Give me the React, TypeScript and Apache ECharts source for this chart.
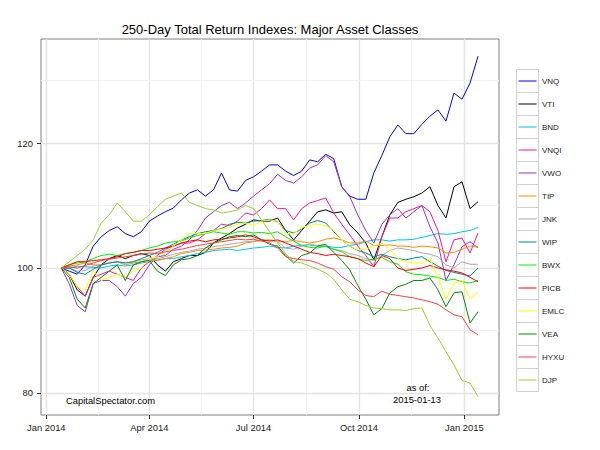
import React, { useEffect, useRef } from "react";
import * as echarts from "echarts";

const dates = [
  "2014-01-14", "2014-01-21", "2014-01-28", "2014-02-04", "2014-02-11", "2014-02-18", "2014-02-25",
  "2014-03-04", "2014-03-11", "2014-03-18", "2014-03-25", "2014-04-01", "2014-04-08", "2014-04-15",
  "2014-04-22", "2014-04-29", "2014-05-06", "2014-05-13", "2014-05-20", "2014-05-27", "2014-06-03",
  "2014-06-10", "2014-06-17", "2014-06-24", "2014-07-01", "2014-07-08", "2014-07-15", "2014-07-22",
  "2014-07-29", "2014-08-05", "2014-08-12", "2014-08-19", "2014-08-26", "2014-09-02", "2014-09-09",
  "2014-09-16", "2014-09-23", "2014-09-30", "2014-10-07", "2014-10-14", "2014-10-21", "2014-10-28",
  "2014-11-04", "2014-11-11", "2014-11-18", "2014-11-25", "2014-12-02", "2014-12-09", "2014-12-16",
  "2014-12-23", "2014-12-30", "2015-01-06", "2015-01-13",
];

const vnq = [100, 99.5, 99, 100.5, 103.5, 105, 106, 106.6, 105.5, 105, 105.8, 107.5, 108.3, 109, 109.6, 110.9, 112, 112.5, 111.5, 112.5, 115.2, 112.5, 112.3, 114, 114.6, 115.5, 116.5, 116.5, 115.5, 114.8, 115.5, 117.3, 117, 118.2, 117.5, 113, 111.5, 111, 111, 115.2, 118, 121, 122.9, 121.5, 121.5, 123, 124.3, 125.3, 123.5, 128, 127, 129.6, 133.9];
const vti = [100, 99, 96.5, 95.5, 98.5, 100.5, 101.5, 102, 101.5, 102, 102.3, 102, 100.5, 99.5, 101, 101.5, 102, 102, 102.5, 104, 104.8, 105.5, 106.4, 107, 107.7, 107.5, 107.5, 108, 106, 104.5, 106, 107.5, 109, 109.3, 108.8, 109, 106.9, 105.6, 104, 101.3, 105, 108.5, 110.5, 111, 111.4, 112, 113, 110, 108, 113, 113.8, 109.5, 110.6];
const bnd = [100, 100, 100.3, 100.2, 100.1, 100, 100.3, 100.5, 100.3, 100.5, 100.8, 101, 101.3, 101.5, 101.5, 101.8, 102, 102.3, 102.5, 102.8, 102.9, 103, 102.8, 103, 103.2, 103.3, 103.5, 103.3, 103.2, 103.5, 103.6, 103.7, 103.5, 103.5, 103.3, 103.3, 103.6, 103.8, 104.2, 104.5, 104.5, 104.3, 104.5, 104.5, 104.6, 104.9, 105.2, 105.5, 105.4, 105.5, 105.8, 106, 106.5];
const vnqi = [100, 99, 97, 95.5, 98.5, 99, 99.5, 99, 98.5, 98, 100, 101, 102, 103, 103.5, 104, 104, 104.5, 105.5, 106, 107, 106.8, 107.5, 108.8, 108.5, 109.5, 110.9, 109.5, 109.5, 107.7, 109.5, 110.4, 110.8, 111.2, 108.8, 107, 105.3, 103.5, 102, 100.2, 105, 108, 108, 109, 109.5, 110, 109, 106, 101, 104.5, 104.8, 102.4, 105.6];
const vwo = [100, 97.5, 94, 93, 97.5, 98, 98, 97, 95.5, 97.5, 98.5, 100.5, 101.8, 102, 103, 103.5, 104.5, 106, 108, 109, 110, 110.5, 109.5, 110.4, 111.5, 112.5, 113.5, 115, 114, 113.6, 114.6, 116, 116.5, 118, 117, 113, 111.4, 108.5, 106, 104, 107, 108.5, 109.5, 108, 109, 110, 106.6, 104, 98, 100.5, 103.4, 104.2, 103.2];
const tip = [100, 100.3, 100.5, 100.8, 100.5, 100.5, 100.8, 101, 100.5, 100.8, 101, 101.3, 101.2, 101.5, 101.8, 102.3, 102.5, 102.8, 102.9, 103, 103.2, 103.3, 103.5, 104, 104.2, 104.4, 104.5, 104.3, 104.2, 104.4, 104.2, 104, 104.2, 104.6, 104.8, 104.5, 104, 104, 104.3, 103.6, 103.6, 103.7, 103.5, 103.5, 103.3, 103.5, 103.4, 103.2, 102.4, 102.5, 103, 103.5, 103.4];
const jnk = [100, 100, 99.5, 99.6, 100.3, 100.5, 100.8, 101, 100.8, 101, 101.3, 101.5, 101.5, 101.8, 102.2, 102.5, 102.7, 103, 103.2, 103.4, 103.6, 103.8, 104, 104.2, 104.3, 104.5, 104.4, 104.2, 103.2, 103, 103.5, 103.8, 103.6, 103.4, 103, 102.8, 102.3, 102, 101.5, 101.2, 102, 102.8, 103.2, 103, 102.8, 102.4, 102.2, 101.8, 100.5, 100, 101, 100.6, 100.6];
const wip = [100, 100, 99.3, 99, 99.8, 100.5, 100.8, 101, 100.8, 101, 101.5, 102, 102.5, 103.2, 103.8, 104.5, 105, 105.5, 105.8, 106, 106.3, 107, 107.3, 107.2, 107.5, 107.6, 107.8, 107.4, 106, 105.6, 106.2, 107.2, 107.6, 107.2, 105.8, 104.5, 103.5, 102.8, 102.4, 101.8, 102.2, 101.8, 101.5, 101.3, 101.6, 101.8, 101, 100.3, 99.6, 99.3, 99, 98.7, 100];
const bwx = [100, 100.5, 100.8, 101, 101.5, 102, 102.2, 102, 102.3, 102.5, 102.8, 103.2, 103.5, 104, 104.2, 104.3, 104.8, 105.2, 105.5, 105.8, 105.6, 105.4, 105.8, 105.8, 105.6, 105.7, 105.5, 105.8, 105, 104.3, 103.6, 103.3, 103.2, 103.5, 103, 102.6, 101.8, 101.5, 101.2, 101.4, 101.7, 101, 100.6, 99.4, 99, 98.9, 98.7, 98.5, 98, 98.2, 97.8, 97.6, 98];
const picb = [100, 100.5, 101, 101, 101.2, 101.3, 101.5, 101.8, 102.3, 102.5, 102.8, 102.8, 103, 103.2, 103.5, 104, 104.3, 104.5, 104.2, 104.5, 104.6, 104.8, 105, 105.3, 105, 104.5, 104.3, 104.5, 104, 103.5, 103, 102.5, 102.3, 102, 102.2, 102, 101.8, 101.5, 100.8, 100.2, 102, 101.5, 100, 99.6, 99.8, 100, 100.4, 100, 99.7, 99.5, 99.2, 98.5, 97.8];
const emlc = [100, 99, 97, 96.5, 99.5, 98, 98.5, 99, 98.5, 99.5, 100, 101.5, 101.8, 102.5, 103.5, 104.5, 105.5, 105.5, 105.5, 106, 106.2, 106.5, 107, 107.2, 106.8, 107.5, 107.7, 107.5, 105.5, 105.5, 106.5, 106.8, 107, 106.8, 106, 104.5, 103.5, 102.9, 103, 103.5, 104, 103, 101.5, 101, 100.8, 100.8, 101.5, 98.5, 95, 97.6, 98, 95, 96.2];
const vea = [100, 98.5, 95, 93.6, 97.5, 98.5, 99.5, 100.5, 98, 100.5, 101, 101.2, 99.5, 98.8, 100.5, 101.3, 101.5, 102, 103.2, 104, 104.5, 105, 105.2, 105, 105.3, 104.5, 103.8, 103.5, 102, 100.8, 102, 102.4, 103.5, 103.8, 102.5, 101.2, 99.7, 97.2, 95, 92.5, 93.5, 96, 97, 97.4, 98, 98, 98.4, 96.5, 93.8, 96, 96.2, 91.2, 93];
const hyxu = [100, 100.2, 100, 100.4, 100.8, 101.2, 101.4, 101.6, 101.8, 102, 102.2, 102.4, 102.3, 102.6, 102.8, 103, 103.3, 103.6, 103.8, 104, 104.2, 104.4, 104.6, 104.5, 104.6, 104.3, 104, 103.2, 101.8, 101.5, 101.3, 101.2, 100.8, 100.2, 99.8, 98.6, 97.8, 96.5, 95.6, 95.4, 96.3, 95.8, 95.6, 95.4, 95.2, 94.9, 94.6, 94.2, 93.3, 92.5, 92.2, 90.1, 89.3];
const djp = [100, 101, 102, 103, 104.5, 107.2, 108.5, 110.4, 109, 107.5, 107.5, 108.5, 109.8, 111, 111.5, 112, 110.5, 110, 109.5, 109.3, 108.8, 109, 109.3, 110, 109.5, 107.7, 105.8, 104, 102.3, 101, 100.8, 100.3, 99.8, 99.2, 98.2, 96.5, 95, 94.6, 94, 93.6, 93.5, 93.3, 93.3, 93.2, 93.5, 93.6, 90.8, 88.8, 86.6, 84.5, 82, 81.6, 79.4];

const seriesNames = ["VNQ", "VTI", "BND", "VNQI", "VWO", "TIP", "JNK", "WIP", "BWX", "PICB", "EMLC", "VEA", "HYXU", "DJP"];
const seriesValues = [vnq, vti, bnd, vnqi, vwo, tip, jnk, wip, bwx, picb, emlc, vea, hyxu, djp];
const seriesColors = ["#0000FF", "#000000", "#00BFFF", "#FF1493", "#9932CC", "#FF8C00", "#A9A9A9", "#008B8B", "#00EE00", "#FF0000", "#FFFF00", "#008B00", "#FF4040", "#9ACD32"];

const xTickDates = ["2014-01-01", "2014-04-01", "2014-07-01", "2014-10-01", "2015-01-01"];
const xTickLabels = ["Jan 2014", "Apr 2014", "Jul 2014", "Oct 2014", "Jan 2015"];
const xMinorDates = ["2014-02-15", "2014-05-16", "2014-08-16", "2014-11-16"];
const yTicks = [80, 100, 120];
const yMinor = [90, 110, 130];

const FONT = "'Liberation Sans', Arial, sans-serif";
const DAY = 86400000;

function ts(s: string): number {
  const [y, m, d] = s.split("-").map(Number);
  return Date.UTC(y, m - 1, d);
}

export default function App() {
  const ref = useRef<HTMLDivElement>(null);

  useEffect(() => {
    if (!ref.current) return;
    const chart = echarts.init(ref.current, null, { renderer: "svg" });
    const xTickTs = xTickDates.map(ts);
    const xMin = ts("2014-01-01") - 4.6 * DAY;
    const xMax = ts("2014-01-01") + 395.3 * DAY;

    const gridLines: any[] = [];
    xTickDates.forEach((d) => gridLines.push({ xAxis: ts(d), lineStyle: { color: "#e3e3e3", width: 1.4 } }));
    xMinorDates.forEach((d) => gridLines.push({ xAxis: ts(d), lineStyle: { color: "#f2f2f2", width: 1 } }));
    yTicks.forEach((v) => gridLines.push({ yAxis: v, lineStyle: { color: "#e3e3e3", width: 1.4 } }));
    yMinor.forEach((v) => gridLines.push({ yAxis: v, lineStyle: { color: "#f2f2f2", width: 1 } }));

    const legendTop = 69;
    const keyH = 23;
    const legendEls: any[] = [];
    seriesNames.forEach((name, i) => {
      const y = legendTop + i * keyH;
      legendEls.push({
        type: "rect",
        shape: { x: 516.5, y: y + 0.5, width: 22, height: keyH },
        style: { fill: "#ffffff", stroke: "#d0d0d0", lineWidth: 1 },
        z: 10,
      });
      legendEls.push({
        type: "line",
        shape: { x1: 518.5, y1: y + keyH / 2 + 0.5, x2: 536.5, y2: y + keyH / 2 + 0.5 },
        style: { stroke: seriesColors[i], lineWidth: 1 },
        z: 11,
      });
      legendEls.push({
        type: "text",
        x: 542,
        y: y + keyH / 2 + 0.5,
        style: { text: name, fontSize: 8, fontFamily: FONT, fill: "#1a1a1a", verticalAlign: "middle", align: "left" },
        z: 11,
      });
    });

    const option: any = {
      animation: false,
      backgroundColor: "#ffffff",
      title: {
        text: "250-Day Total Return Indexes: Major Asset Classes",
        left: 270,
        top: 23,
        textAlign: "center",
        padding: 0,
        textStyle: { fontSize: 13, fontWeight: "normal", color: "#000000", fontFamily: FONT },
      },
      grid: {
        left: 41,
        top: 39,
        width: 458,
        height: 376,
        show: true,
        borderColor: "#7f7f7f",
        borderWidth: 1,
        backgroundColor: "#ffffff",
        containLabel: false,
      },
      xAxis: {
        type: "value",
        min: xMin,
        max: xMax,
        axisLine: { show: false },
        splitLine: { show: false },
        axisTick: { show: true, length: 4, customValues: xTickTs, lineStyle: { color: "#333333", width: 1 } },
        axisLabel: {
          customValues: xTickTs,
          margin: 8,
          fontSize: 9.4,
          fontFamily: FONT,
          color: "#1a1a1a",
          formatter: (v: number) => {
            const idx = xTickTs.findIndex((t) => Math.abs(t - v) < DAY);
            return idx >= 0 ? xTickLabels[idx] : "";
          },
        },
      },
      yAxis: {
        type: "value",
        min: 76.47,
        max: 136.65,
        axisLine: { show: false },
        splitLine: { show: false },
        axisTick: { show: true, length: 4, customValues: yTicks, lineStyle: { color: "#333333", width: 1 } },
        axisLabel: {
          customValues: yTicks,
          margin: 8,
          fontSize: 9.4,
          fontFamily: FONT,
          color: "#1a1a1a",
        },
      },
      graphic: [
        {
          type: "text",
          x: 66,
          y: 400,
          style: { text: "CapitalSpectator.com", fontSize: 9.4, fontFamily: FONT, fill: "#000000", verticalAlign: "middle", align: "left" },
          z: 20,
        },
        {
          type: "text",
          x: 418,
          y: 387,
          style: { text: "as of:", fontSize: 9.4, fontFamily: FONT, fill: "#000000", verticalAlign: "middle", align: "center" },
          z: 20,
        },
        {
          type: "text",
          x: 417,
          y: 399,
          style: { text: "2015-01-13", fontSize: 9.4, fontFamily: FONT, fill: "#000000", verticalAlign: "middle", align: "center" },
          z: 20,
        },
        ...legendEls,
      ],
      series: [
        {
          name: "grid",
          type: "line",
          data: [],
          silent: true,
          z: 1,
          markLine: {
            z: 1,
            silent: true,
            symbol: ["none", "none"],
            label: { show: false },
            emphasis: { disabled: true },
            lineStyle: { type: "solid" },
            data: gridLines,
          },
        },
        ...seriesNames.map((name, i) => ({
          name,
          type: "line",
          z: 2,
          showSymbol: false,
          symbol: "none",
          silent: true,
          lineStyle: { color: seriesColors[i], width: 1 },
          itemStyle: { color: seriesColors[i] },
          data: dates.map((d, j) => [ts(d), seriesValues[i][j]]),
        })),
      ],
    };

    chart.setOption(option);
    return () => chart.dispose();
  }, []);

  return (
    <div
      ref={ref}
      style={{ position: "fixed", left: 0, top: 0, width: 600, height: 450, background: "#ffffff" }}
    />
  );
}
